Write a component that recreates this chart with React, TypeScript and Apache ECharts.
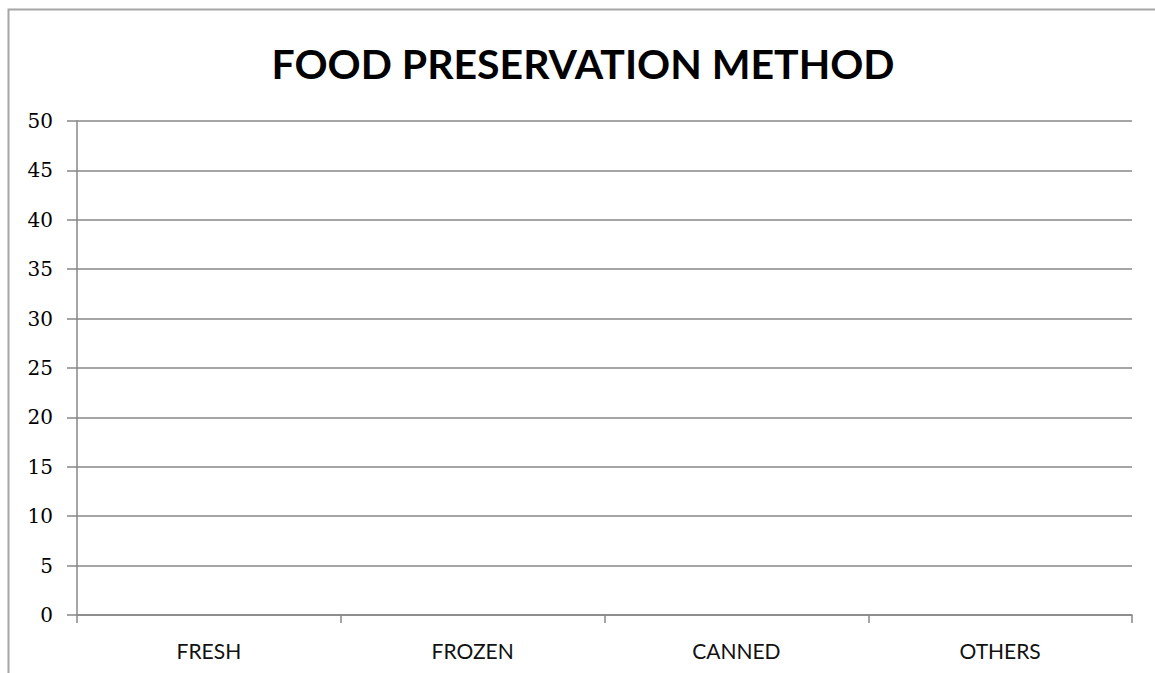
import React, { useEffect, useRef } from "react";
import * as echarts from "echarts";

const title = "FOOD PRESERVATION METHOD";
const categories = ["FRESH", "FROZEN", "CANNED", "OTHERS"];
const values: (number | null)[] = [null, null, null, null];
const yMin = 0;
const yMax = 50;
const yStep = 5;

export default function App() {
  const ref = useRef<HTMLDivElement>(null);
  useEffect(() => {
    document.body.style.margin = "0";
    const chart = echarts.init(ref.current!, undefined, { renderer: "svg" });
    chart.setOption({
      animation: false,
      backgroundColor: "#ffffff",
      title: {
        text: title,
        left: 578,
        textAlign: "center",
        top: 38,
        textStyle: {
          fontFamily: "Lato",
          fontWeight: "bold",
          fontSize: 41,
          color: "#000000",
        },
      },
      graphic: [
        {
          type: "rect",
          shape: { x: 8.5, y: 9.5, width: 1200, height: 700 },
          style: { fill: "none", stroke: "#a6a6a6", lineWidth: 2 },
          silent: true,
        },
      ],
      grid: { left: 77, right: 23, top: 121, bottom: 58, containLabel: false },
      xAxis: {
        type: "category",
        data: categories,
        boundaryGap: true,
        axisLine: { show: true, lineStyle: { color: "#878787", width: 1.5 } },
        axisTick: { show: true, length: 8, alignWithLabel: false, lineStyle: { color: "#878787", width: 1.5 } },
        axisLabel: {
          margin: 25,
          fontFamily: "Lato",
          fontSize: 21,
          color: "#111111",
        },
      },
      yAxis: {
        type: "value",
        min: yMin,
        max: yMax,
        interval: yStep,
        axisLine: { show: true, lineStyle: { color: "#878787", width: 1.5 } },
        axisTick: { show: true, length: 10, lineStyle: { color: "#878787", width: 1.5 } },
        splitLine: { show: true, lineStyle: { color: "#878787", width: 1.5 } },
        axisLabel: {
          margin: 24,
          fontFamily: "DejaVu Serif",
          fontSize: 20,
          color: "#000000",
        },
      },
      series: [
        {
          type: "bar",
          data: values,
        },
      ],
    });
    return () => chart.dispose();
  }, []);
  return <div ref={ref} style={{ width: 1155, height: 673 }} />;
}
